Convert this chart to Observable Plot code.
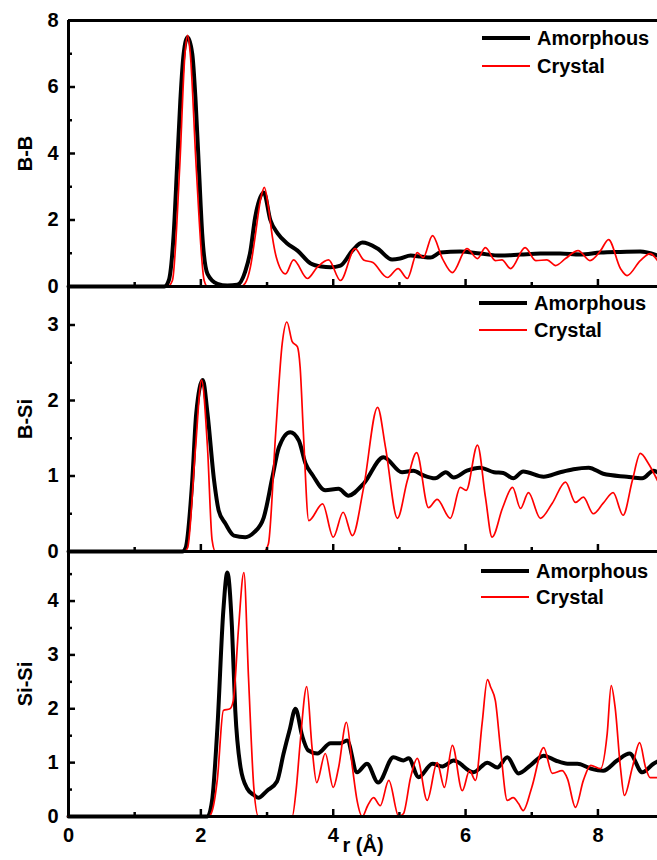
<!DOCTYPE html>
<html>
<head>
<meta charset="utf-8">
<script src="https://cdn.jsdelivr.net/npm/d3@7"></script>
<script src="https://cdn.jsdelivr.net/npm/@observablehq/plot@0.6"></script>
<style>
  body { margin: 0; background: #fff; }
  #wrap { position: relative; width: 657px; font-family: "Liberation Sans", Arial, sans-serif; font-weight: bold; }
  .pbox { position: relative; width: 657px; }
  .pbox svg.txt { position: absolute; left: 0; top: 0; z-index: 0; }
  .pbox svg.gfx { position: relative; display: block; z-index: 1; }
  .lg { position: absolute; display: flex; align-items: center; height: 24px; font-size: 20px; font-weight: bold; color: #000; white-space: nowrap; z-index: 3; }
  .lg svg { margin-right: 7px; }
</style>
</head>
<body>
<div id="wrap"></div>
<script>
// ---------- data ----------
const xMajor = [0, 2, 4, 6, 8];
const xMinor = [1, 3, 5, 7];
const seriesNames = ["Amorphous", "Crystal"];

// B-B
const bbAmorR = [0, 1.45, 1.515, 1.59, 1.64, 1.69, 1.74, 1.8, 1.87, 1.92, 1.97, 2.02, 2.1, 2.25, 2.4, 2.55, 2.67, 2.75, 2.82, 2.95, 3.05, 3.16, 3.3, 3.46, 3.66, 3.82, 3.96, 4.11, 4.29, 4.44, 4.67, 4.89, 5.01, 5.17, 5.32, 5.47, 5.62, 5.92, 6.22, 6.53, 6.83, 7.13, 7.43, 7.73, 8.04, 8.34, 8.64, 8.9];
const bbAmorG = [0, 0, 0.18, 1.6, 3.58, 5.6, 7.0, 7.5, 7.0, 5.6, 3.58, 1.6, 0.38, 0.08, 0.03, 0.05, 0.45, 1.08, 2.07, 2.83, 2.0, 1.6, 1.3, 1.08, 0.69, 0.6, 0.58, 0.63, 1.08, 1.32, 1.14, 0.81, 0.84, 0.93, 0.9, 0.87, 1.02, 1.05, 0.99, 0.93, 0.96, 0.99, 0.99, 0.96, 1.02, 1.04, 1.05, 0.93];
const bbCrysR = [0, 1.5, 1.57, 1.68, 1.76, 1.8, 1.84, 1.93, 2.05, 2.1, 2.6, 2.67, 2.75, 2.82, 2.9, 2.96, 3.02, 3.08, 3.14, 3.28, 3.4, 3.61, 3.76, 3.93, 4.11, 4.33, 4.46, 4.6, 4.82, 4.98, 5.12, 5.27, 5.36, 5.5, 5.65, 5.8, 6.02, 6.18, 6.3, 6.45, 6.55, 6.68, 6.9, 7.06, 7.23, 7.36, 7.51, 7.7, 7.88, 8.04, 8.16, 8.34, 8.44, 8.64, 8.79, 8.9];
const bbCrysG = [0, 0, 0.18, 3.58, 7.0, 7.55, 7.0, 3.58, 0.18, 0, 0, 0.1, 0.6, 1.5, 2.6, 2.98, 2.4, 1.5, 0.88, 0.38, 0.8, 0.24, 0.58, 0.8, 0.18, 1.14, 0.8, 0.72, 0.27, 0.54, 0.24, 1.02, 0.87, 1.53, 0.84, 0.42, 1.14, 0.84, 1.17, 0.78, 0.8, 0.54, 1.17, 0.78, 0.8, 0.63, 0.84, 1.08, 0.78, 1.08, 1.41, 0.54, 0.33, 0.78, 0.99, 0.78];

// B-Si
const bsAmorR = [0, 1.72, 1.77, 1.87, 1.93, 2.03, 2.1, 2.2, 2.27, 2.37, 2.5, 2.67, 2.8, 2.95, 3.08, 3.18, 3.35, 3.48, 3.58, 3.69, 3.88, 4.08, 4.23, 4.46, 4.76, 5.04, 5.21, 5.36, 5.54, 5.7, 5.82, 6.02, 6.22, 6.43, 6.57, 6.72, 6.87, 7.18, 7.43, 7.63, 7.86, 8.08, 8.44, 8.67, 8.84, 8.9];
const bsAmorG = [0, 0, 0.05, 0.94, 1.83, 2.27, 1.83, 0.94, 0.54, 0.37, 0.21, 0.19, 0.25, 0.45, 0.98, 1.38, 1.58, 1.47, 1.17, 1.01, 0.81, 0.83, 0.74, 0.9, 1.25, 1.05, 1.07, 1.01, 0.97, 1.05, 0.98, 1.07, 1.11, 1.05, 1.04, 0.97, 1.06, 0.99, 1.05, 1.09, 1.11, 1.03, 0.99, 0.97, 1.07, 1.05];
const bsCrysR = [0, 1.75, 1.8, 1.92, 2.01, 2.1, 2.17, 2.22, 2.95, 3.02, 3.13, 3.23, 3.3, 3.38, 3.46, 3.5, 3.55, 3.63, 3.84, 4.0, 4.15, 4.29, 4.46, 4.67, 4.79, 4.97, 5.12, 5.26, 5.44, 5.57, 5.77, 5.92, 6.01, 6.18, 6.3, 6.4, 6.56, 6.71, 6.83, 6.95, 7.13, 7.31, 7.51, 7.66, 7.78, 7.93, 8.08, 8.23, 8.38, 8.52, 8.64, 8.76, 8.9];
const bsCrysG = [0, 0, 0.05, 1.38, 2.27, 1.38, 0.15, 0, 0, 0.1, 1.56, 2.76, 3.04, 2.78, 2.71, 2.44, 1.56, 0.41, 0.63, 0.19, 0.52, 0.21, 0.85, 1.91, 1.38, 0.44, 0.94, 1.31, 0.58, 0.69, 0.44, 0.85, 0.81, 1.41, 0.72, 0.19, 0.58, 0.85, 0.57, 0.78, 0.44, 0.64, 0.92, 0.65, 0.72, 0.5, 0.64, 0.78, 0.48, 0.94, 1.3, 1.17, 0.94];

// Si-Si
const ssAmorR = [0, 2.1, 2.17, 2.25, 2.34, 2.4, 2.47, 2.52, 2.6, 2.7, 2.8, 2.87, 3.0, 3.15, 3.25, 3.34, 3.43, 3.53, 3.62, 3.76, 3.96, 4.11, 4.21, 4.36, 4.51, 4.68, 4.91, 5.06, 5.14, 5.29, 5.5, 5.65, 5.82, 6.12, 6.33, 6.48, 6.63, 6.8, 6.98, 7.18, 7.36, 7.54, 7.69, 7.89, 8.08, 8.29, 8.48, 8.67, 8.84, 8.9];
const ssAmorG = [0, 0, 0.3, 1.65, 3.83, 4.53, 3.51, 1.97, 0.91, 0.52, 0.4, 0.35, 0.48, 0.65, 1.17, 1.6, 2.0, 1.5, 1.23, 1.17, 1.36, 1.36, 1.41, 0.82, 0.98, 0.63, 1.1, 1.04, 1.08, 0.73, 0.98, 0.93, 1.04, 0.82, 1.0, 0.91, 1.1, 0.8, 0.95, 1.13, 1.04, 0.98, 0.98, 0.89, 0.85, 1.04, 1.17, 0.82, 0.98, 1.02];
const ssCrysR = [0, 2.12, 2.17, 2.25, 2.34, 2.44, 2.49, 2.57, 2.65, 2.72, 2.8, 2.87, 3.38, 3.44, 3.5, 3.6, 3.68, 3.75, 3.88, 4.0, 4.08, 4.2, 4.29, 4.36, 4.44, 4.52, 4.61, 4.71, 4.84, 4.99, 5.06, 5.17, 5.27, 5.42, 5.57, 5.68, 5.8, 5.95, 6.06, 6.15, 6.25, 6.33, 6.38, 6.45, 6.53, 6.63, 6.72, 6.8, 6.87, 7.0, 7.18, 7.31, 7.46, 7.54, 7.66, 7.78, 7.89, 8.04, 8.14, 8.2, 8.26, 8.34, 8.4, 8.52, 8.63, 8.72, 8.79, 8.9];
const ssCrysG = [0, 0, 0.1, 0.7, 1.97, 2.0, 2.15, 3.51, 4.53, 2.58, 0.54, 0, 0, 0.5, 1.36, 2.41, 1.28, 0.63, 1.17, 0.54, 0.9, 1.75, 0.91, 0.3, 0, 0.2, 0.35, 0.2, 0.67, 0, 0.05, 0.73, 1.08, 0.3, 1.0, 0.54, 1.32, 0.48, 0.85, 0.67, 1.73, 2.54, 2.4, 2.15, 1.23, 0.3, 0.35, 0.24, 0.11, 0.54, 1.28, 0.8, 0.85, 0.7, 0.17, 0.67, 0.95, 0.89, 1.54, 2.43, 2.02, 0.91, 0.39, 0.91, 1.37, 0.91, 0.72, 0.72];

// y axes
const bbYMax = 8,    bbMajor = [0, 2, 4, 6, 8],    bbMinor = [1, 3, 5, 7];
const bsYMax = 3.51, bsMajor = [0, 1, 2, 3],       bsMinor = [0.5, 1.5, 2.5];
const ssYMax = 4.92, ssMajor = [0, 1, 2, 3, 4],    ssMinor = [0.5, 1.5, 2.5, 3.5, 4.5];
const xMax = 8.9;
const xTitle = "r (Å)";

// ---------- drawing ----------
const toRows = (R, G) => R.map((r, i) => ({r, g: G[i]}));
const wrap = document.getElementById("wrap");
const FONT = "'Liberation Sans', Arial, sans-serif";

function panel(o) {
  const box = document.createElement("div");
  box.className = "pbox";
  box.style.height = o.height + "px";
  wrap.appendChild(box);

  const common = {
    width: 657, height: o.height,
    marginLeft: 68, marginRight: 0, marginTop: o.mt, marginBottom: o.mb,
    x: {domain: [0, xMax]},
    y: {domain: [0, o.yMax]}
  };

  // text layer: tick labels and titles (through the library's axes)
  const tmarks = [
    Plot.axisY({ticks: o.major, tickSize: 0, tickPadding: 10, tickFormat: "d", label: null, fontSize: 20, fontWeight: "bold"}),
    Plot.text([o.label], {frameAnchor: "left", dx: -43, rotate: -90, textAnchor: "middle", fontSize: 20, fontWeight: "bold", fill: "#000"})
  ];
  if (o.xLabels) {
    tmarks.push(Plot.axisX({ticks: xMajor, tickSize: 0, tickPadding: 11, tickFormat: "d", label: null, fontSize: 20, fontWeight: "bold"}));
    tmarks.push(Plot.text([xTitle], {frameAnchor: "bottom", dy: 35, fontSize: 20, fontWeight: "bold", fill: "#000"}));
  } else {
    tmarks.push(Plot.axisX({ticks: [], label: null}));
  }
  const tsvg = Plot.plot({...common,
    style: {fontFamily: FONT, fontSize: "20px", fontWeight: "bold", overflow: "visible", background: "transparent", color: "#000"},
    marks: tmarks});
  tsvg.classList.add("txt");
  box.appendChild(tsvg);

  // graphics layer: curves, frame and inward ticks
  const gmarks = [
    Plot.line(toRows(o.aR, o.aG), {x: "r", y: "g", stroke: "#000", strokeWidth: 4, curve: "monotone-x"}),
    Plot.line(toRows(o.cR, o.cG), {x: "r", y: "g", stroke: "#ff0000", strokeWidth: 1.7, curve: "monotone-x"}),
    Plot.axisY({ticks: o.major, tickSize: 7, dx: 7, text: null, label: null, strokeWidth: 2.5}),
    Plot.axisY({ticks: o.minor, tickSize: 4, dx: 4, text: null, label: null, strokeWidth: 2.5}),
    Plot.axisX({ticks: xMajor, tickSize: 7, dy: -7, text: null, label: null, strokeWidth: 2.5}),
    Plot.axisX({ticks: xMinor, tickSize: 4, dy: -4, text: null, label: null, strokeWidth: 2.5}),
    Plot.ruleX([0], {stroke: "#000", strokeWidth: 3}),
    Plot.ruleY([0], {stroke: "#000", strokeWidth: 3})
  ];
  if (o.top) gmarks.push(Plot.ruleY([o.yMax], {stroke: "#000", strokeWidth: 3}));
  const gsvg = Plot.plot({...common,
    style: {overflow: "visible", background: "transparent", color: "#000"},
    marks: gmarks});
  gsvg.classList.add("gfx");
  box.appendChild(gsvg);

  // legend
  const rows = [[seriesNames[0], "#000", 4, o.lg[0]], [seriesNames[1], "#ff0000", 2, o.lg[1]]];
  for (const [name, color, w, cy] of rows) {
    const d = document.createElement("div");
    d.className = "lg";
    d.style.left = o.lgx + "px";
    d.style.top = (cy - 12) + "px";
    d.innerHTML = `<svg width="48" height="8"><line x1="0" x2="48" y1="4" y2="4" stroke="${color}" stroke-width="${w}"/></svg><span>${name}</span>`;
    wrap.appendChild(d);
  }
}

panel({aR: bbAmorR, aG: bbAmorG, cR: bbCrysR, cG: bbCrysG, yMax: bbYMax, major: bbMajor, minor: bbMinor,
       label: "B-B", top: true, height: 286, mt: 20, mb: 0, lgx: 482, lg: [38, 66]});
panel({aR: bsAmorR, aG: bsAmorG, cR: bsCrysR, cG: bsCrysG, yMax: bsYMax, major: bsMajor, minor: bsMinor,
       label: "B-Si", top: false, height: 265, mt: 0, mb: 0, lgx: 479, lg: [303, 330]});
panel({aR: ssAmorR, aG: ssAmorG, cR: ssCrysR, cG: ssCrysG, yMax: ssYMax, major: ssMajor, minor: ssMinor,
       label: "Si-Si", top: false, height: 309, mt: 0, mb: 44, lgx: 481, lg: [571, 597], xLabels: true});
</script>
</body>
</html>
